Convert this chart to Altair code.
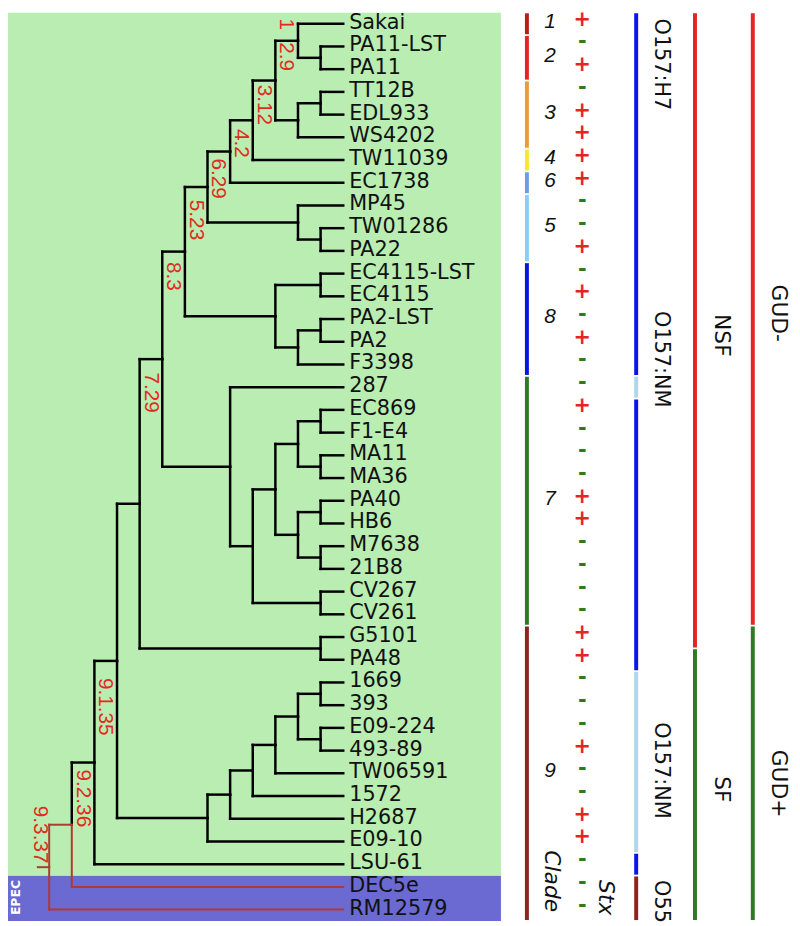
import altair as alt
import pandas as pd

# ---------------- data ----------------
leaves = ["Sakai", "PA11-LST", "PA11", "TT12B", "EDL933", "WS4202", "TW11039", "EC1738",
          "MP45", "TW01286", "PA22", "EC4115-LST", "EC4115", "PA2-LST", "PA2", "F3398",
          "287", "EC869", "F1-E4", "MA11", "MA36", "PA40", "HB6", "M7638", "21B8",
          "CV267", "CV261", "G5101", "PA48", "1669", "393", "E09-224", "493-89",
          "TW06591", "1572", "H2687", "E09-10", "LSU-61", "DEC5e", "RM12579"]

stx = ["+", "-", "+", "-", "+", "+", "+", "+", "-", "-", "+", "-", "+", "-", "+", "-",
       "-", "+", "-", "-", "-", "+", "+", "-", "-", "-", "-", "+", "+", "-", "-", "-",
       "+", "-", "-", "+", "+", "-", "-", "-"]

# tree topology
c12 = ("Sakai", ("PA11-LST", "PA11"))
c3 = (("TT12B", "EDL933"), "WS4202")
n3 = (c12, c3)
n4 = (n3, "TW11039")
n5 = (n4, "EC1738")
c5 = ("MP45", ("TW01286", "PA22"))
n6 = (n5, c5)
c8 = (("EC4115-LST", "EC4115"), (("PA2-LST", "PA2"), "F3398"))
n7 = (n6, c8)
c7 = ("287", (((("EC869", "F1-E4"), ("MA11", "MA36")),
                (("PA40", "HB6"), ("M7638", "21B8"))), ("CV267", "CV261")))
n8 = (n7, c7)
n9 = (n8, ("G5101", "PA48"))
c9 = ((((((("1669", "393"), ("E09-224", "493-89")), "TW06591"), "1572"), "H2687"), "E09-10"))
n10 = (n9, c9)
n11 = (n10, "LSU-61")
n12 = (n11, "DEC5e")
root = (n12, "RM12579")
epec_branches = [n12, "DEC5e", "RM12579"]

node_labels = ["1", "2.9", "3.12", "4.2", "6.29", "5.23", "8.3", "7.29", "9.1.35", "9.2.36", "9.3.37"]
node_label_level = [3, 3, 4, 5, 6, 7, 8, 9, 11, 12, 13.9]
node_label_top = [-0.23, 0.81, 2.68, 4.63, 5.93, 7.75, 10.49, 15.35, 28.8, 32.83, 34.43]

clade_names = ["1", "2", "3", "4", "6", "5", "8", "7", "9"]
clade_start = [0, 1, 3, 6, 7, 8, 11, 16, 27]
clade_end = [0, 2, 5, 6, 7, 10, 15, 26, 39]
clade_label_row = [0, 1.5, 4, 6, 7, 9, 13, 21, 33]
clade_colors = ["#b3201e", "#e52420", "#f09a36", "#f5e92c", "#6a9de8", "#86d0f5",
                "#0a14dc", "#2e7a22", "#8e2420"]

sero_groups = ["O157", "O157:NM light", "O157", "O157:NM light", "O157", "O55"]
sero_start = [0, 16, 17, 29, 37, 38]
sero_end = [15, 16, 28, 36, 37, 39]
sero_texts = ["O157:H7", "O157:NM", "O157:NM", "O55"]
sero_text_top = [-0.23, 12.65, 30.75, 37.7]

sf_groups = ["NSF", "SF"]
sf_start = [0, 28]
sf_end = [27, 39]
sf_text_top = [12.78, 33.13]

gud_groups = ["GUD-", "GUD+"]
gud_start = [0, 27]
gud_end = [26, 39]
gud_text_top = [11.48, 31.96]

region_names = ["ingroup", "EPEC"]
region_start = [0, 38]
region_end = [37, 39]

# ---------------- layout of the tree ----------------
rows = {name: i for i, name in enumerate(leaves)}
black_seg, red_seg = [], []


def lay(node):
    if isinstance(node, str):
        return 0, rows[node]
    info = [lay(c) for c in node]
    lvl = max(l for l, _ in info) + 1
    y = (info[0][1] + info[-1][1]) / 2
    for c, (cl, cy) in zip(node, info):
        target = red_seg if any(c is e for e in epec_branches) else black_seg
        target.append({"x": lvl, "x2": cl, "y": cy, "y2": cy})
        target.append({"x": lvl, "x2": lvl, "y": y, "y2": cy})
    return lvl, y


root_lvl, root_y = lay(root)
red_seg.append({"x": root_lvl + 0.5, "x2": root_lvl, "y": root_y, "y2": root_y})

black_df = pd.DataFrame(black_seg)
red_df = pd.DataFrame(red_seg)
leaf_df = pd.DataFrame({"name": leaves, "row": range(len(leaves)), "lvl": 0})
stx_df = pd.DataFrame({"sign": stx, "row": range(len(leaves))})
nl_df = pd.DataFrame({"t": node_labels, "lvl": [v - 0.22 for v in node_label_level],
                      "row": node_label_top})

# ---------------- scales ----------------
W, H = 792, 916
X = alt.Scale(domain=[-19.84, 14.82], reverse=True, nice=False, zero=False)
Y = alt.Scale(domain=[-0.49, 39.43], reverse=True, nice=False, zero=False)


def px(ref_x):
    return ref_x * W / 800.0


def xq(f):
    return alt.X(f + ":Q", scale=X, axis=None)


def yq(f):
    return alt.Y(f + ":Q", scale=Y, axis=None)


layers = []

# background regions
reg_df = pd.DataFrame({"region": region_names,
                       "y0": [s - 0.49 for s in region_start],
                       "y1": [e + 0.5 for e in region_end]})
layers.append(alt.Chart(reg_df).mark_rect().encode(
    x=alt.value(0), x2=alt.value(px(503)), y=yq("y0"), y2="y1",
    color=alt.Color("region:N", scale=alt.Scale(domain=region_names,
                                                 range=["#b9edb2", "#6a6ad2"]), legend=None)))

# tree
layers.append(alt.Chart(black_df).mark_rule(color="#000000", strokeWidth=2.5, strokeCap="square").encode(
    x=xq("x"), x2="x2", y=yq("y"), y2="y2"))
layers.append(alt.Chart(red_df).mark_rule(color="#b03a30", strokeWidth=2, strokeCap="square").encode(
    x=xq("x"), x2="x2", y=yq("y"), y2="y2"))

# leaf names
layers.append(alt.Chart(leaf_df).mark_text(align="left", baseline="middle", dx=6, dy=-1,
                                           font="DejaVu Sans", fontSize=21, color="#111111").encode(
    x=xq("lvl"), y=yq("row"), text="name:N"))

# node labels (red, rotated)
layers.append(alt.Chart(nl_df).mark_text(angle=90, align="left", baseline="alphabetic",
                                         font="Liberation Sans", fontSize=21, color="#e32a1e").encode(
    x=xq("lvl"), y=yq("row"), text="t:N"))

# EPEC label
layers.append(alt.Chart(pd.DataFrame({"t": ["EPEC"], "row": [38.47]})).mark_text(
    angle=270, align="center", baseline="middle", font="DejaVu Sans", fontWeight="bold",
    fontSize=12.5, color="#ffffff").encode(x=alt.value(px(8)), y=yq("row"), text="t:N"))


def bar(keys, starts, ends, domain, colors, ref_x):
    df = pd.DataFrame({"k": keys, "y0": [s - 0.46 for s in starts], "y1": [e + 0.46 for e in ends]})
    return alt.Chart(df).mark_rule(strokeWidth=4, strokeCap="butt").encode(
        x=alt.value(px(ref_x)), y=yq("y0"), y2="y1",
        color=alt.Color("k:N", scale=alt.Scale(domain=domain, range=colors), legend=None))


def vtext(texts, tops, ref_x, size=21, style="normal"):
    df = pd.DataFrame({"t": texts, "row": tops})
    return alt.Chart(df).mark_text(angle=90, align="left", baseline="middle", font="DejaVu Sans",
                                   fontSize=size, fontStyle=style, color="#111111").encode(
        x=alt.value(px(ref_x)), y=yq("row"), text="t:N")


# clade bar + numbers
layers.append(bar(clade_names, clade_start, clade_end, clade_names, clade_colors, 529.5))
clade_lab_df = pd.DataFrame({"t": clade_names, "row": clade_label_row})
layers.append(alt.Chart(clade_lab_df).mark_text(align="center", baseline="middle", dy=-2,
                                                font="Liberation Sans", fontStyle="italic",
                                                fontSize=21, color="#111111").encode(
    x=alt.value(px(553)), y=yq("row"), text="t:N"))
layers.append(vtext(["Clade"], [36.39], 555, 22, "italic"))

# Stx
layers.append(alt.Chart(stx_df).mark_text(align="center", baseline="middle", dy=-4,
                                          font="DejaVu Sans", fontWeight="bold", fontSize=21).encode(
    x=alt.value(px(586)), y=yq("row"), text="sign:N",
    color=alt.Color("sign:N", scale=alt.Scale(domain=["+", "-"], range=["#e3261f", "#2e7a22"]),
                    legend=None)))
layers.append(vtext(["Stx"], [37.7], 610, 22, "italic"))

# serotype
layers.append(bar(sero_groups, sero_start, sero_end, ["O157", "O157:NM light", "O55"],
                  ["#0a14e6", "#b0d6e8", "#8e2420"], 641))
layers.append(vtext(sero_texts, sero_text_top, 666))

# NSF / SF
layers.append(bar(sf_groups, sf_start, sf_end, sf_groups, ["#e3261f", "#2e7a22"], 701))
layers.append(vtext(sf_groups, sf_text_top, 728, 22))

# GUD
layers.append(bar(gud_groups, gud_start, gud_end, gud_groups, ["#e3261f", "#2e7a22"], 760))
layers.append(vtext(gud_groups, gud_text_top, 787, 22))

chart = alt.layer(*layers).resolve_scale(color="independent").properties(
    width=W, height=H, padding=0, autosize=alt.AutoSizeParams(type="none")
).configure_view(strokeWidth=0)

chart.save("out.html", embed_options={"renderer": "svg", "actions": False})
